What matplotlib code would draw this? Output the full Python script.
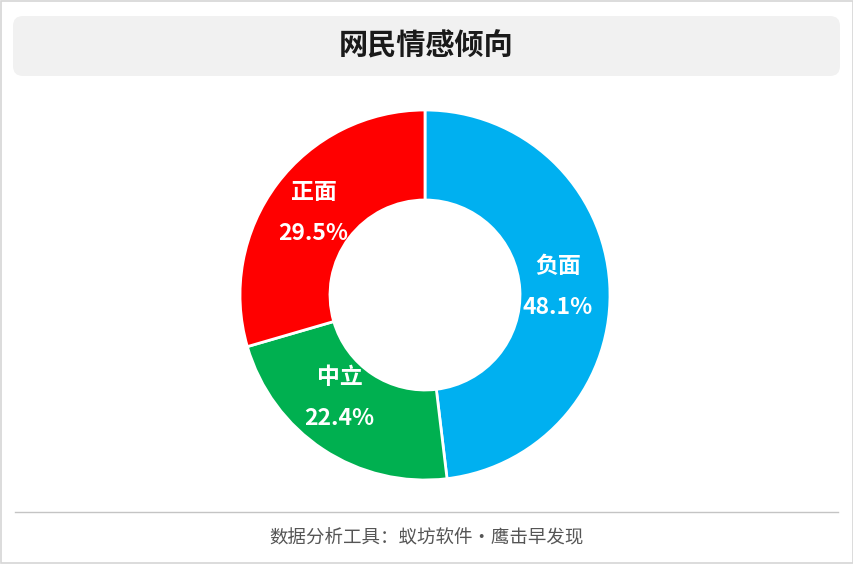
import matplotlib
matplotlib.use("Agg")
import matplotlib.pyplot as plt
from matplotlib.patches import FancyBboxPatch, Rectangle
import numpy as np

plt.rcParams['font.family'] = ['Noto Sans CJK SC', 'DejaVu Sans']

# data
labels = ['负面', '中立', '正面']
values = [48.1, 22.4, 29.5]
colors = ['#00B0F0', '#00B050', '#FF0000']
title = '网民情感倾向'
footer = '数据分析工具：蚁坊软件・鹰击早发现'

# small hand nudges for label placement (pixels, +y is up)
nudge = {'负面': (-4, 0), '中立': (-10, 12), '正面': (-2, 0)}

W, H = 854, 564
fig = plt.figure(figsize=(W / 100, H / 100), dpi=100)

# background layer in pixel coords
bg = fig.add_axes([0, 0, 1, 1])
bg.set_xlim(0, W)
bg.set_ylim(H, 0)
bg.axis('off')
bg.add_patch(Rectangle((0.5, 0.5), W - 1.5, H - 1.5, fill=False, edgecolor='#d6d6d6', linewidth=1.2))
bg.add_patch(FancyBboxPatch((13 + 10, 16 + 10), 827 - 20, 60 - 20,
                            boxstyle='round,pad=10', facecolor='#f1f1f1', edgecolor='none'))
bg.text(426, 46, title, ha='center', va='center', fontsize=21, fontweight='bold', color='#1a1a1a')
bg.plot([15, 838], [512, 512], color='#c4c4c4', linewidth=1)
bg.text(427, 537, footer, ha='center', va='center', fontsize=13.3, color='#555555')

# donut, axes sized so one data unit = one pixel
cx, cy, half = 425, 295, 200
ax = fig.add_axes([(cx - half) / W, (H - cy - half) / H, 2 * half / W, 2 * half / H])
ax.axis('off')

outer, ring = 185, 90
ax.pie(values, colors=colors, startangle=90, counterclock=False, radius=outer,
       wedgeprops=dict(width=ring, edgecolor='white', linewidth=2))

start = 90.0
total = sum(values)
for lab, v in zip(labels, values):
    mid = np.deg2rad(start - v / total * 180)
    start -= v / total * 360
    r = 137
    dx, dy = nudge[lab]
    x, y = r * np.cos(mid) + dx, r * np.sin(mid) + dy
    ax.text(x, y + 20, lab, ha='center', va='center', fontsize=16.5, fontweight='bold', color='white')
    ax.text(x, y - 21, f'{v}%', ha='center', va='center', fontsize=16.5, fontweight='bold', color='white')

ax.set_xlim(-half, half)
ax.set_ylim(-half, half)
ax.set_aspect('equal')

plt.savefig('out.png', dpi=100)
